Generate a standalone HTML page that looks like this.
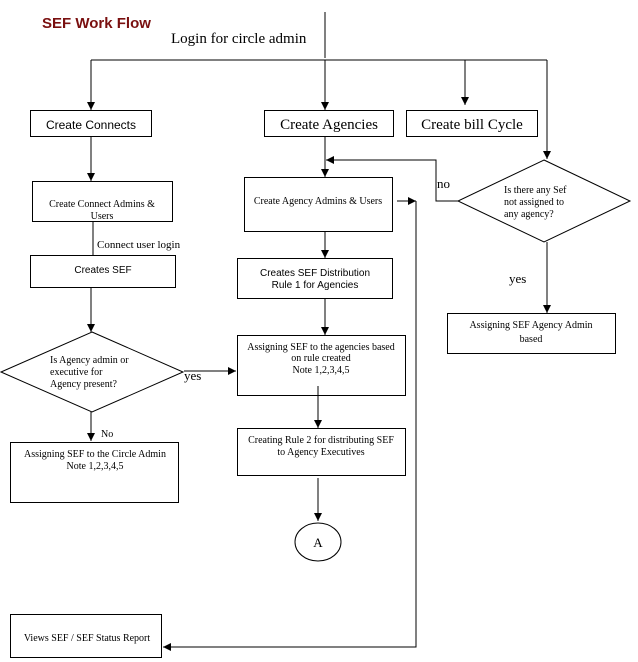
<!DOCTYPE html>
<html><head><style>body{margin:0;background:#fff}svg{display:block}</style></head><body>
<svg width="638" height="662" xmlns="http://www.w3.org/2000/svg">
<defs><marker id="a" viewBox="0 0 10 10" refX="10" refY="5" markerWidth="8" markerHeight="8" orient="auto" markerUnits="userSpaceOnUse"><path d="M0,0L10,5L0,10z" fill="#000"/></marker></defs>
<g fill="none" stroke="#000" stroke-width="1">
<rect x="30.5" y="110.5" width="121" height="26"/>
<rect x="264.5" y="110.5" width="129" height="26"/>
<rect x="406.5" y="110.5" width="131" height="26"/>
<rect x="32.5" y="181.5" width="140" height="40"/>
<rect x="30.5" y="255.5" width="145" height="32"/>
<rect x="244.5" y="177.5" width="148" height="54"/>
<rect x="237.5" y="258.5" width="155" height="40"/>
<rect x="237.5" y="335.5" width="168" height="60"/>
<rect x="237.5" y="428.5" width="168" height="47"/>
<rect x="10.5" y="442.5" width="168" height="60"/>
<rect x="10.5" y="614.5" width="151" height="43"/>
<rect x="447.5" y="313.5" width="168" height="40"/>
<ellipse cx="318" cy="542" rx="23" ry="19"/>
<polygon points="92,332 183,372 92,412 1,372"/>
<polygon points="544,160 630,201 544,242 458,201"/>
<path d="M325,12V58"/>
<path d="M91,60H547"/>
<path d="M91,60V110" marker-end="url(#a)"/>
<path d="M325,60V110" marker-end="url(#a)"/>
<path d="M465,60V105" marker-end="url(#a)"/>
<path d="M547,60V159" marker-end="url(#a)"/>
<path d="M91,136V181" marker-end="url(#a)"/>
<path d="M93,222V255"/>
<path d="M91,288V332" marker-end="url(#a)"/>
<path d="M184,371H236" marker-end="url(#a)"/>
<path d="M91,412V441" marker-end="url(#a)"/>
<path d="M325,136V177" marker-end="url(#a)"/>
<path d="M458,201H436V160H326" marker-end="url(#a)"/>
<path d="M325,231V258" marker-end="url(#a)"/>
<path d="M325,299V335" marker-end="url(#a)"/>
<path d="M318,386V428" marker-end="url(#a)"/>
<path d="M318,478V521" marker-end="url(#a)"/>
<path d="M547,242V313" marker-end="url(#a)"/>
<path d="M416,201V647H163" marker-end="url(#a)"/>
<path d="M397,201H416" marker-end="url(#a)"/>
</g>
<g font-family="Liberation Serif, serif" fill="#000">
<text x="42" y="28" font-family="Liberation Sans, sans-serif" font-weight="bold" font-size="15" fill="#7a1010">SEF Work Flow</text>
<text x="171" y="43" font-size="15">Login for circle admin</text>
<text x="91" y="129" font-family="Liberation Sans, sans-serif" font-size="12" text-anchor="middle">Create Connects</text>
<text x="329" y="129" font-size="15" text-anchor="middle">Create Agencies</text>
<text x="472" y="129" font-size="15" text-anchor="middle">Create bill Cycle</text>
<text x="102" y="207" font-size="10" text-anchor="middle">Create Connect Admins &amp;</text>
<text x="102" y="219" font-size="10" text-anchor="middle">Users</text>
<text x="97" y="248" font-size="11">Connect user login</text>
<text x="103" y="273" font-family="Liberation Sans, sans-serif" font-size="10" text-anchor="middle">Creates SEF</text>
<text x="318" y="204" font-size="10" text-anchor="middle">Create Agency Admins &amp; Users</text>
<text x="315" y="276" font-family="Liberation Sans, sans-serif" font-size="10" text-anchor="middle">Creates SEF Distribution</text>
<text x="315" y="288" font-family="Liberation Sans, sans-serif" font-size="10" text-anchor="middle">Rule 1 for Agencies</text>
<text x="321" y="350" font-size="10" text-anchor="middle">Assigning SEF to the agencies based</text>
<text x="321" y="361" font-size="10" text-anchor="middle">on rule created</text>
<text x="321" y="373" font-size="10" text-anchor="middle">Note 1,2,3,4,5</text>
<text x="321" y="443" font-size="10" text-anchor="middle">Creating Rule 2 for distributing SEF</text>
<text x="321" y="455" font-size="10" text-anchor="middle">to Agency Executives</text>
<text x="318" y="547" font-size="13" text-anchor="middle">A</text>
<text x="50" y="363" font-size="10">Is Agency admin or</text>
<text x="50" y="375" font-size="10">executive for</text>
<text x="50" y="387" font-size="10">Agency present?</text>
<text x="184" y="380" font-size="13">yes</text>
<text x="101" y="437" font-size="10">No</text>
<text x="95" y="457" font-size="10" text-anchor="middle">Assigning SEF to the Circle Admin</text>
<text x="95" y="469" font-size="10" text-anchor="middle">Note 1,2,3,4,5</text>
<text x="87" y="641" font-size="10" text-anchor="middle">Views SEF / SEF Status Report</text>
<text x="437" y="188" font-size="13">no</text>
<text x="504" y="193" font-size="10">Is there any Sef</text>
<text x="504" y="205" font-size="10">not assigned to</text>
<text x="504" y="217" font-size="10">any agency?</text>
<text x="509" y="283" font-size="13">yes</text>
<text x="531" y="328" font-size="10" text-anchor="middle">Assigning SEF Agency Admin</text>
<text x="531" y="342" font-size="10" text-anchor="middle">based</text>
</g>
</svg>
</body></html>
